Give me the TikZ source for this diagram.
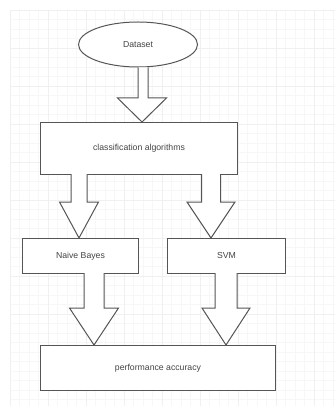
\documentclass[tikz,border=0pt]{standalone}
\usepackage{fontspec}
\setmainfont{Liberation Sans}
\usetikzlibrary{shapes.geometric,calc}
\definecolor{gridminor}{HTML}{F7F7F7}
\definecolor{gridmajor}{HTML}{F0F0F0}
\definecolor{linec}{HTML}{555555}
\definecolor{textc}{HTML}{444444}
\tikzset{
  boxnode/.style={draw=linec, line width=1pt, fill=white, text=textc, font=\fontsize{8.7}{10}\selectfont, inner sep=0pt, anchor=north west},
  ovalnode/.style={ellipse, draw=linec, line width=1pt, fill=white, text=textc, font=\fontsize{8.7}{10}\selectfont, inner sep=0pt},
  arrowline/.style={draw=linec, line width=1pt, fill=white, line join=miter},
}
\newcommand\blockarr[5]{%
  \path[arrowline] let \p1=(#1), \p2=(#2) in
    (\x1-#3,\y1) -- (\x1-#3,\y2+#5) -- (\x2-#4,\y2+#5) -- (\x2,\y2)
    -- (\x2+#4,\y2+#5) -- (\x1+#3,\y2+#5) -- (\x1+#3,\y1);}
\begin{document}
\begin{tikzpicture}[x=1pt,y=-1pt]
  \useasboundingbox (0,0) rectangle (335,406);
  \fill[white] (0,0) rectangle (335,406);
  % grid
  \foreach \i in {0,...,34} {
    \draw[gridminor, line width=0.6pt] (10+9.5*\i,10) -- (10+9.5*\i,406);
  }
  \foreach \i in {0,...,41} {
    \draw[gridminor, line width=0.6pt] (10,10+9.5*\i) -- (335,10+9.5*\i);
  }
  \foreach \i in {0,...,8} {
    \draw[gridmajor, line width=0.8pt] (10+38*\i,10) -- (10+38*\i,406);
    \draw[gridmajor, line width=0.8pt] (10,10+38*\i) -- (335,10+38*\i);
  }
  % nodes
  \node[ovalnode, minimum width=119pt, minimum height=45pt] (ds) at (138,44.5) {Dataset};
  \node[boxnode, minimum width=197pt, minimum height=52pt] (cls) at (40,122) {classification algorithms};
  \node[boxnode, minimum width=116pt, minimum height=35pt] (nb) at (22,238) {Naive Bayes};
  \node[boxnode, minimum width=118pt, minimum height=35pt] (svm) at (167,238) {SVM};
  \node[boxnode, minimum width=235pt, minimum height=45pt] (perf) at (40,345) {performance accuracy};
  % arrow anchors
  \coordinate (a1s) at ([xshift=5pt]ds.south);
  \coordinate (a1e) at ([xshift=4pt]ds.south |- cls.north);
  \coordinate (a2s) at (79,174);
  \coordinate (a2e) at (a2s |- nb.north);
  \coordinate (a3s) at (211,174);
  \coordinate (a3e) at (a3s |- svm.north);
  \coordinate (a4s) at (94,273);
  \coordinate (a4e) at (a4s |- perf.north);
  \coordinate (a5s) at (226,273);
  \coordinate (a5e) at (a5s |- perf.north);
  % block arrows
  \blockarr{a1s}{a1e}{5pt}{24.5pt}{24pt}
  \blockarr{a2s}{a2e}{8pt}{19.5pt}{36pt}
  \blockarr{a3s}{a3e}{9.5pt}{24pt}{36pt}
  \blockarr{a4s}{a4e}{10pt}{24.5pt}{37pt}
  \blockarr{a5s}{a5e}{11pt}{24pt}{37pt}
\end{tikzpicture}
\end{document}
